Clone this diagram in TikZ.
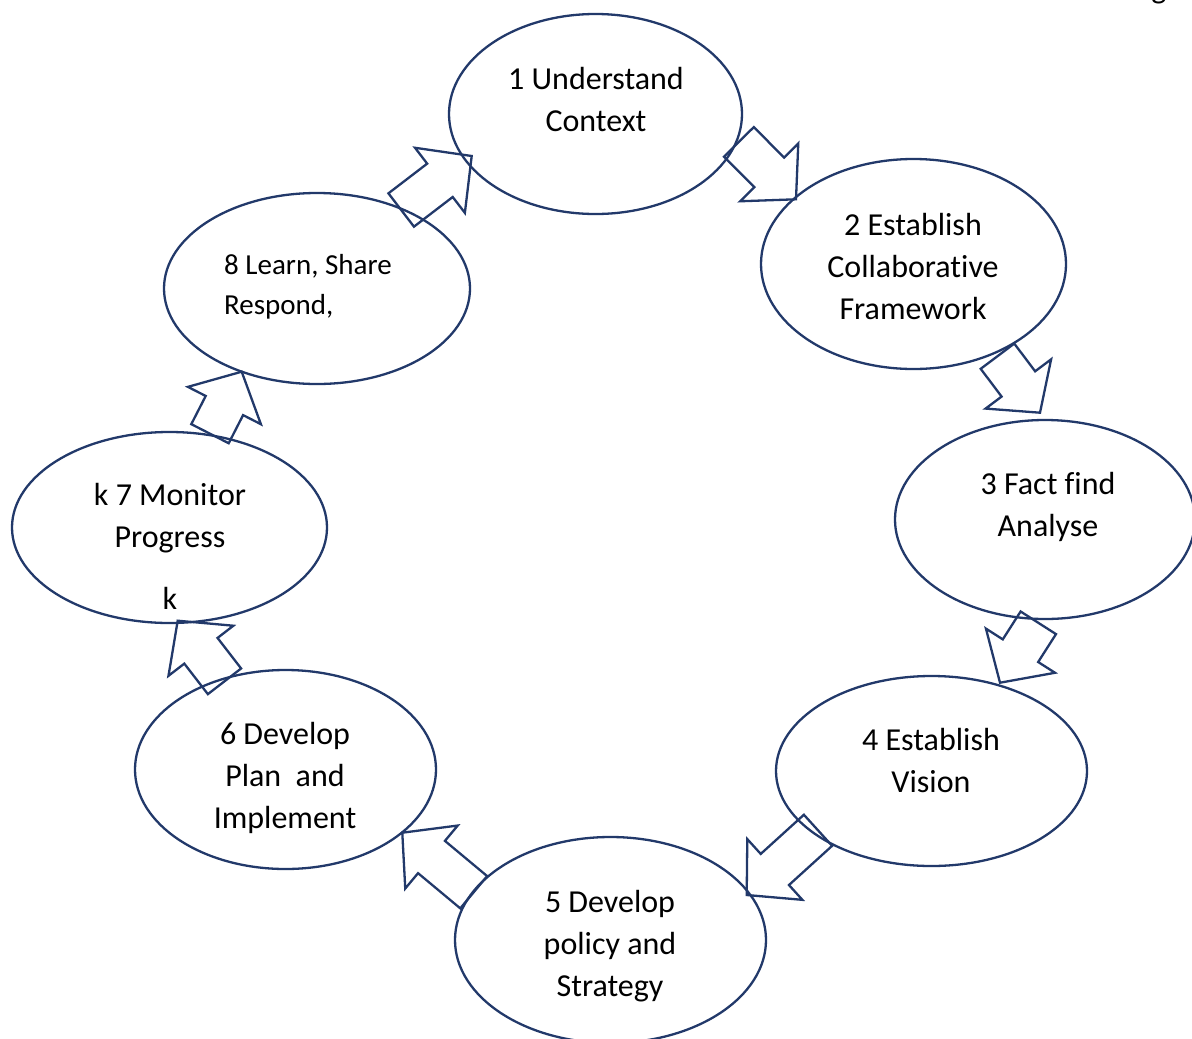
\documentclass[tikz,border=0pt]{standalone}
\usepackage{fontspec}
\setmainfont{Carlito}[RawFeature={-liga;-clig;-calt;-dlig}]
\usetikzlibrary{calc,shapes.geometric}
\definecolor{navy}{HTML}{22396A}
\tikzset{
  x=1pt, y=-1pt,
  stage/.style={ellipse, draw=navy, line width=2.3pt, inner sep=0pt},
  lbl/.style={align=center, font=\fontsize{32}{42}\selectfont, inner sep=0pt},
  blockarr/.style={draw=navy, line width=2.3pt, line join=miter},
}
% #1 tail, #2 tip, #3 shaft half width, #4 head half width, #5 head length
\newcommand\blockarrow[5]{%
  \coordinate (ba-h) at ($(#2)!#5!(#1)$);
  \draw[blockarr] ($(#1)!#3!90:(#2)$) -- ($(ba-h)!#3!-90:(#1)$) -- ($(ba-h)!#4!-90:(#1)$)
    -- (#2) -- ($(ba-h)!#4!90:(#1)$) -- ($(ba-h)!#3!90:(#1)$) -- ($(#1)!#3!-90:(#2)$) -- cycle;
}
\begin{document}
\begin{tikzpicture}
\useasboundingbox (0,0) rectangle (1192,1039);
% stages
\node[stage, minimum width=293pt, minimum height=200pt] (s1) at (595.5,114) {};
\node[stage, minimum width=305pt, minimum height=210pt] (s2) at (913.5,264) {};
\node[stage, minimum width=300pt, minimum height=199pt] (s3) at (1045,519.5) {};
\node[stage, minimum width=311pt, minimum height=190pt] (s4) at (931.5,771) {};
\node[stage, minimum width=311pt, minimum height=206pt] (s5) at (610.5,940) {};
\node[stage, minimum width=301pt, minimum height=199pt] (s6) at (285.5,769.5) {};
\node[stage, minimum width=315pt, minimum height=191pt] (s7) at (169.5,527.5) {};
\node[stage, minimum width=306pt, minimum height=191pt] (s8) at (317,288.5) {};
% labels
\node[lbl] (l1) at (596,100) {1 Understand\\Context};
\node[lbl] (l2) at (913,267) {2 Establish\\Collaborat\kern0pt ive\\Framework};
\node[lbl] (l3) at (1048,507) {3 Fact f\kern0pt ind\\Analyse};
\node[lbl] (l4) at (931,760) {4 Establish\\Vision};
\node[lbl] (l5) at (610,946) {5 Develop\\policy and\\Strategy};
\node[lbl] (l6) at (285,778) {6 Develop\\Plan\ \ and\\Implement};
\node[lbl] (l7) at (170,518) {k 7 Monitor\\Progress};
\node[lbl] (l7k) at (170,598) {k};
\node[align=left, font=\fontsize{29}{40}\selectfont, inner sep=0pt, anchor=west] (l8) at (224,287) {8 Learn, Share\\Respond,};
\node[font=\fontsize{32}{42}\selectfont, inner sep=0pt, anchor=base] (lg) at (1159,-2) {g};
% arrow end points
\coordinate (t12) at (738.9,141.9); \coordinate (h12) at (796,199.3);
\coordinate (t23) at (997.5,356.2); \coordinate (h23) at (1040,412.7);
\coordinate (t34) at (1038.3,622.8); \coordinate (h34) at (1000,682.7);
\coordinate (t45) at (818,830.3); \coordinate (h45) at (746.7,895);
\coordinate (t56) at (473.7,892.2); \coordinate (h56) at (402.3,832.7);
\coordinate (t67) at (224.5,681.3); \coordinate (h67) at (177.7,620.7);
\coordinate (t78) at (210,433.7); \coordinate (h78) at (241.7,371.7);
\coordinate (t81) at (401.2,210); \coordinate (h81) at (471.7,156);
\blockarrow{t12}{h12}{21pt}{41pt}{38pt}
\blockarrow{t23}{h23}{21pt}{41pt}{36pt}
\blockarrow{t34}{h34}{21pt}{41pt}{38pt}
\blockarrow{t45}{h45}{21pt}{41pt}{38pt}
\blockarrow{t56}{h56}{21pt}{41pt}{38pt}
\blockarrow{t67}{h67}{21pt}{41pt}{38pt}
\blockarrow{t78}{h78}{21pt}{41pt}{38pt}
\blockarrow{t81}{h81}{21pt}{41pt}{40pt}
\end{tikzpicture}
\end{document}
